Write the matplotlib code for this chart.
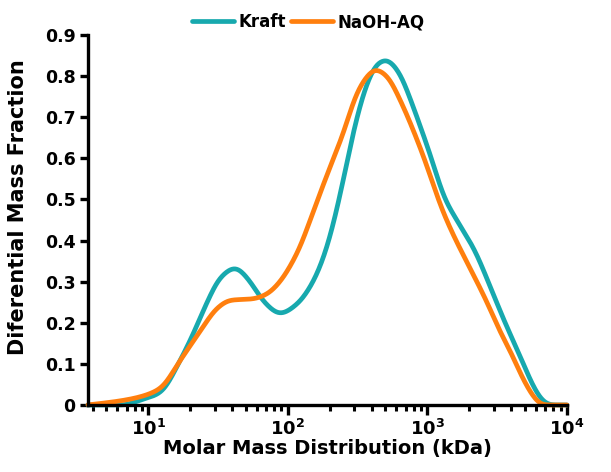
import numpy as np
import matplotlib
matplotlib.use("Agg")
import matplotlib.pyplot as plt
from matplotlib.ticker import FixedLocator, FuncFormatter, LogLocator

plt.rcParams['font.family'] = ['DejaVu Sans']
plt.rcParams['font.weight'] = 'bold'
plt.rcParams['mathtext.fontset'] = 'custom'
plt.rcParams['mathtext.bf'] = 'DejaVu Sans:bold'
plt.rcParams['mathtext.rm'] = 'DejaVu Sans:bold'
plt.rcParams['mathtext.default'] = 'bf'

# Data (molar mass in kDa, differential mass fraction)
kraft_x = [3.7, 6.6, 8.8, 12.2, 16.9, 21.0, 26.4, 32.8, 42, 53.7, 66.6, 88, 117,
           152, 185, 208, 249, 293, 370, 436, 505, 637, 726, 842, 1044, 1337,
           1656, 2190, 2800, 3600, 4600, 5650, 6600, 7500, 10000]
kraft_y = [0, 0, 0.012, 0.03, 0.108, 0.173, 0.25, 0.31, 0.334, 0.30, 0.253, 0.222,
           0.246, 0.30, 0.37, 0.43, 0.545, 0.66, 0.783, 0.83, 0.84, 0.805, 0.759,
           0.70, 0.61, 0.50, 0.445, 0.375, 0.29, 0.20, 0.12, 0.05, 0.012, 0, 0]

naoh_x = [3.7, 6.3, 8.8, 12.2, 16.9, 23.6, 31.2, 38.6, 56.4, 71.1, 88, 109, 122.5,
          152, 191, 249, 313, 370, 422, 514, 637, 915, 1293, 1602, 2018, 2671,
          3300, 4000, 4900, 5900, 6600, 10000]
naoh_y = [0, 0.01, 0.02, 0.04, 0.108, 0.18, 0.236, 0.255, 0.258, 0.27, 0.30, 0.35,
          0.385, 0.47, 0.56, 0.66, 0.76, 0.80, 0.817, 0.80, 0.742, 0.614, 0.47,
          0.40, 0.333, 0.25, 0.18, 0.125, 0.06, 0.015, 0, 0]

labels = ['Kraft', 'NaOH-AQ']
colors = ['#17A9AE', '#FF7F0E']


def pchip(x, y, xn):
    # monotone cubic interpolation (Fritsch-Carlson)
    x = np.asarray(x, float)
    y = np.asarray(y, float)
    h = np.diff(x)
    d = np.diff(y) / h
    m = np.zeros_like(y)
    for k in range(1, len(x) - 1):
        if d[k - 1] * d[k] > 0:
            w1 = 2 * h[k] + h[k - 1]
            w2 = h[k] + 2 * h[k - 1]
            m[k] = (w1 + w2) / (w1 / d[k - 1] + w2 / d[k])
    m[0] = d[0]
    m[-1] = d[-1]
    i = np.clip(np.searchsorted(x, xn) - 1, 0, len(h) - 1)
    t = (xn - x[i]) / h[i]
    h00 = 2 * t**3 - 3 * t**2 + 1
    h10 = t**3 - 2 * t**2 + t
    h01 = -2 * t**3 + 3 * t**2
    h11 = t**3 - t**2
    return h00 * y[i] + h10 * h[i] * m[i] + h01 * y[i + 1] + h11 * h[i] * m[i + 1]


def smooth(v, sigma):
    # light gaussian smoothing to remove kinks
    n = int(3 * sigma)
    k = np.exp(-0.5 * (np.arange(-n, n + 1) / sigma) ** 2)
    k /= k.sum()
    vp = np.pad(v, n, mode='edge')
    return np.convolve(vp, k, mode='valid')


fig = plt.figure(figsize=(6.11, 4.72), dpi=100)
ax = fig.add_axes([0.144, 0.142, 0.784, 0.784])

for xs, ys, lab, c in zip([kraft_x, naoh_x], [kraft_y, naoh_y], labels, colors):
    lx = np.log10(xs)
    fine = np.linspace(lx[0], lx[-1], 900)
    yy = smooth(np.clip(pchip(lx, ys, fine), 0, None), 8)
    ax.plot(10**fine, yy, color=c, lw=3.4, label=lab,
            solid_capstyle='round', clip_on=False)

ax.set_xscale('log')
ax.set_xlim(3.7, 10000)
ax.set_ylim(0, 0.9)

ax.set_yticks(np.arange(0, 0.91, 0.1))
ax.yaxis.set_major_formatter(FuncFormatter(lambda v, p: '0' if v == 0 else '%.1f' % v))
ax.xaxis.set_major_locator(FixedLocator([10, 100, 1000, 10000]))
ax.xaxis.set_minor_locator(LogLocator(base=10, subs=np.arange(2, 10)))
ax.xaxis.set_major_formatter(FuncFormatter(lambda v, p: r'$\mathbf{10^{%d}}$' % round(np.log10(v))))

for s in ['top', 'right']:
    ax.spines[s].set_visible(False)
for s in ['left', 'bottom']:
    ax.spines[s].set_linewidth(2.4)

ax.tick_params(axis='both', which='major', width=2.4, length=6, labelsize=12.5, pad=3)
ax.tick_params(axis='x', which='major', length=7, labelsize=13)
ax.tick_params(axis='x', which='minor', width=2.2, length=4)

ax.set_xlabel('Molar Mass Distribution (kDa)', fontsize=14, fontweight='bold', labelpad=0)
ax.set_ylabel('Diferential Mass Fraction', fontsize=15, fontweight='bold')
ax.yaxis.set_label_coords(-0.125, 0.535)

fig.legend(loc='center', bbox_to_anchor=(0.505, 0.953), ncol=2, frameon=False,
           handlelength=2.5, handletextpad=0.3, columnspacing=0.3,
           prop={'weight': 'bold', 'size': 12})

fig.savefig('out.png', dpi=100)
